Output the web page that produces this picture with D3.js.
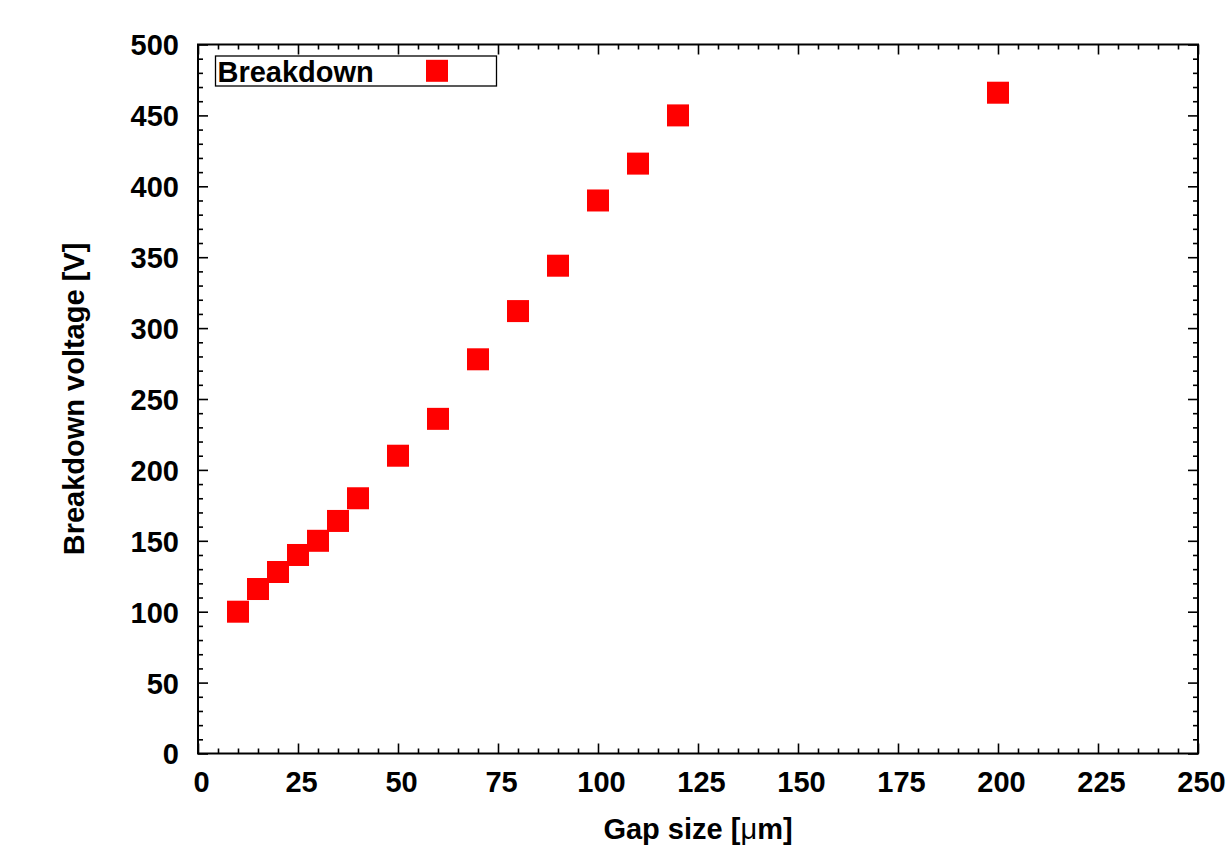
<!DOCTYPE html>
<html>
<head>
<meta charset="utf-8">
<script src="https://cdn.jsdelivr.net/npm/d3@7"></script>
<style>
  html, body { margin: 0; padding: 0; background: #fff; }
  svg { display: block; }
  text { font-family: "Liberation Sans", Arial, Helvetica, sans-serif; font-weight: bold; fill: #000; }
</style>
</head>
<body>
<svg id="chart" width="1230" height="852"></svg>
<script>
// Measured breakdown voltage versus electrode gap
const gapSizes = [10, 15, 20, 25, 30, 35, 40, 50, 60, 70, 80, 90, 100, 110, 120, 200];
const breakdownVoltages = [100, 116, 128, 140, 150, 164, 180, 210, 236, 278, 312, 344, 390, 416, 450, 466];

const xMajorTicks = [0, 25, 50, 75, 100, 125, 150, 175, 200, 225, 250];
const yMajorTicks = [0, 50, 100, 150, 200, 250, 300, 350, 400, 450, 500];
const xMinorTicks = d3.range(0, 251, 5).filter(v => v % 25 !== 0);
const yMinorTicks = d3.range(0, 501, 10).filter(v => v % 50 !== 0);

const seriesName = "Breakdown";
const xTitle = "Gap size [";
const yTitle = "Breakdown voltage [V]";

const svg = d3.select("#chart");
const W = 1230, H = 852;
const margin = { left: 198, right: 32, top: 44.5, bottom: 98.5 };
const pw = W - margin.left - margin.right;
const ph = H - margin.top - margin.bottom;

svg.append("rect").attr("width", W).attr("height", H).attr("fill", "#fff");

const x = d3.scaleLinear().domain([0, 250]).range([0, pw]);
const y = d3.scaleLinear().domain([0, 500]).range([ph, 0]);

const g = svg.append("g").attr("transform", `translate(${margin.left},${margin.top})`);

const fontSize = 29;
const majorLen = 10, minorLen = 5;

function styleAxis(sel) {
  sel.select(".domain").remove();
  sel.selectAll(".tick line").attr("stroke", "#000").attr("stroke-width", 1.6);
  sel.selectAll(".tick text").style("font-size", fontSize + "px");
}

// bottom axis with labels
g.append("g").attr("transform", `translate(0,${ph})`)
  .call(d3.axisBottom(x).tickValues(xMajorTicks).tickSize(-majorLen).tickPadding(18))
  .call(styleAxis)
  .call(a => a.selectAll(".tick text").attr("dx", 3));
g.append("g").attr("transform", `translate(0,${ph})`)
  .call(d3.axisBottom(x).tickValues(xMinorTicks).tickSize(-minorLen).tickFormat(""))
  .call(styleAxis);

// top axis, ticks only
g.append("g")
  .call(d3.axisTop(x).tickValues(xMajorTicks).tickSize(-majorLen).tickFormat(""))
  .call(styleAxis);
g.append("g")
  .call(d3.axisTop(x).tickValues(xMinorTicks).tickSize(-minorLen).tickFormat(""))
  .call(styleAxis);

// left axis with labels
g.append("g")
  .call(d3.axisLeft(y).tickValues(yMajorTicks).tickSize(-majorLen).tickPadding(19))
  .call(styleAxis)
  .call(a => a.selectAll(".tick text").attr("dy", "0.36em"));
g.append("g")
  .call(d3.axisLeft(y).tickValues(yMinorTicks).tickSize(-minorLen).tickFormat(""))
  .call(styleAxis);

// right axis, ticks only
g.append("g").attr("transform", `translate(${pw},0)`)
  .call(d3.axisRight(y).tickValues(yMajorTicks).tickSize(-majorLen).tickFormat(""))
  .call(styleAxis);
g.append("g").attr("transform", `translate(${pw},0)`)
  .call(d3.axisRight(y).tickValues(yMinorTicks).tickSize(-minorLen).tickFormat(""))
  .call(styleAxis);

// plot frame
g.append("rect")
  .attr("width", pw).attr("height", ph)
  .attr("fill", "none").attr("stroke", "#000").attr("stroke-width", 2);

// data markers
const markerSize = 22;
const points = gapSizes.map((d, i) => ({ gap: d, volt: breakdownVoltages[i] }));
g.append("g").selectAll("rect.pt")
  .data(points)
  .join("rect")
  .attr("class", "pt")
  .attr("x", d => x(d.gap) - markerSize / 2)
  .attr("y", d => y(d.volt) - markerSize / 2)
  .attr("width", markerSize).attr("height", markerSize)
  .attr("fill", "#ff0000");

// legend
const legend = g.append("g").attr("transform", "translate(17.5,11.5)");
legend.append("rect")
  .attr("width", 281).attr("height", 30)
  .attr("fill", "#fff").attr("stroke", "#000").attr("stroke-width", 1.3);
legend.append("text")
  .attr("x", 2).attr("y", 25.5)
  .style("font-size", fontSize + "px")
  .text(seriesName);
legend.append("rect")
  .attr("x", 221.5 - markerSize / 2).attr("y", 14.8 - markerSize / 2)
  .attr("width", markerSize).attr("height", markerSize)
  .attr("fill", "#ff0000");

// axis titles
const xt = svg.append("text")
  .attr("x", margin.left + pw / 2).attr("y", 839)
  .attr("text-anchor", "middle")
  .style("font-size", fontSize + "px");
xt.append("tspan").text(xTitle);
xt.append("tspan").style("font-weight", "normal").text("\u03bc");
xt.append("tspan").text("m]");

svg.append("text")
  .attr("transform", `translate(84,${margin.top + ph / 2}) rotate(-90)`)
  .attr("text-anchor", "middle")
  .style("font-size", fontSize + "px")
  .text(yTitle);
</script>
</body>
</html>
